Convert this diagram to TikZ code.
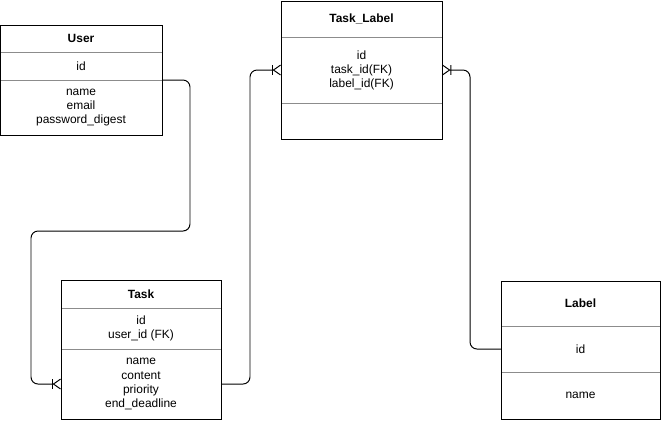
\documentclass[tikz,border=0pt]{standalone}
\usepackage{fontspec}
\setmainfont{Liberation Sans}
\usetikzlibrary{positioning,arrows.meta}

\tikzset{
  row/.style={inner sep=0pt, outer sep=0pt, align=center, font=\fontsize{8.5}{10}\selectfont},
  headrow/.style={row, font=\fontsize{8.5}{10}\selectfont\bfseries},
  frame/.style={draw=black, line width=0.7pt},
  divider/.style={draw=black!45, line width=0.6pt},
  rel/.style={draw, line width=0.7pt, rounded corners=5pt},
  many/.style={-{Bar[width=7pt,sep=0pt]Straight Barb[reversed,length=5pt,width=7pt]}},
  manystart/.style={{Straight Barb[reversed,length=5pt,width=7pt]Bar[width=7pt,sep=0pt]}-},
}

\begin{document}
\begin{tikzpicture}[x=0.025cm, y=-0.025cm]
\useasboundingbox (0,0) rectangle (661,422);

% User
\node[headrow, minimum width=4.05cm, minimum height=0.675cm, anchor=north west] (userhead) at (0,25) {User};
\node[row, minimum width=4.05cm, minimum height=0.7cm, below=0pt of userhead] (userid) {id};
\node[row, minimum width=4.05cm, minimum height=1.375cm, below=0pt of userid] (userattr) {name\\email\\password\_digest};
\draw[divider] (userid.north west) -- (userid.north east);
\draw[divider] (userattr.north west) -- (userattr.north east);
\draw[frame] (userhead.north west) rectangle (userattr.south east);

% Task
\node[headrow, minimum width=4cm, minimum height=0.7cm, anchor=north west] (taskhead) at (61,280) {Task};
\node[row, minimum width=4cm, minimum height=1.025cm, below=0pt of taskhead] (taskkeys) {id\\user\_id (FK)};
\node[row, minimum width=4cm, minimum height=1.75cm, below=0pt of taskkeys] (taskattr) {name\\content\\priority\\end\_deadline};
\draw[divider] (taskkeys.north west) -- (taskkeys.north east);
\draw[divider] (taskattr.north west) -- (taskattr.north east);
\draw[frame] (taskhead.north west) rectangle (taskattr.south east);

% Task_Label
\node[headrow, minimum width=4.025cm, minimum height=0.9cm, anchor=north west] (tlhead) at (281,1) {Task\_Label};
\node[row, minimum width=4.025cm, minimum height=1.65cm, below=0pt of tlhead] (tlkeys) {id\\task\_id(FK)\\label\_id(FK)};
\node[row, minimum width=4.025cm, minimum height=0.9cm, below=0pt of tlkeys] (tlempty) {};
\draw[divider] (tlkeys.north west) -- (tlkeys.north east);
\draw[divider] (tlempty.north west) -- (tlempty.north east);
\draw[frame] (tlhead.north west) rectangle (tlempty.south east);

% Label
\node[headrow, minimum width=3.975cm, minimum height=1.125cm, anchor=north west] (labelhead) at (501,281) {Label};
\node[row, minimum width=3.975cm, minimum height=1.15cm, below=0pt of labelhead] (labelid) {id};
\node[row, minimum width=3.975cm, minimum height=1.175cm, below=0pt of labelid] (labelname) {name};
\draw[divider] (labelid.north west) -- (labelid.north east);
\draw[divider] (labelname.north west) -- (labelname.north east);
\draw[frame] (labelhead.north west) rectangle (labelname.south east);

% relations
\draw[rel, many] (userattr.north east) -| (190,231) -- (31,231) |- (taskattr.west);
\draw[rel, many] (taskattr.east) -- (250,384) |- (tlkeys.west);
\draw[rel, manystart] (tlkeys.east) -- (470,70) |- (labelid.west);
\end{tikzpicture}
\end{document}
